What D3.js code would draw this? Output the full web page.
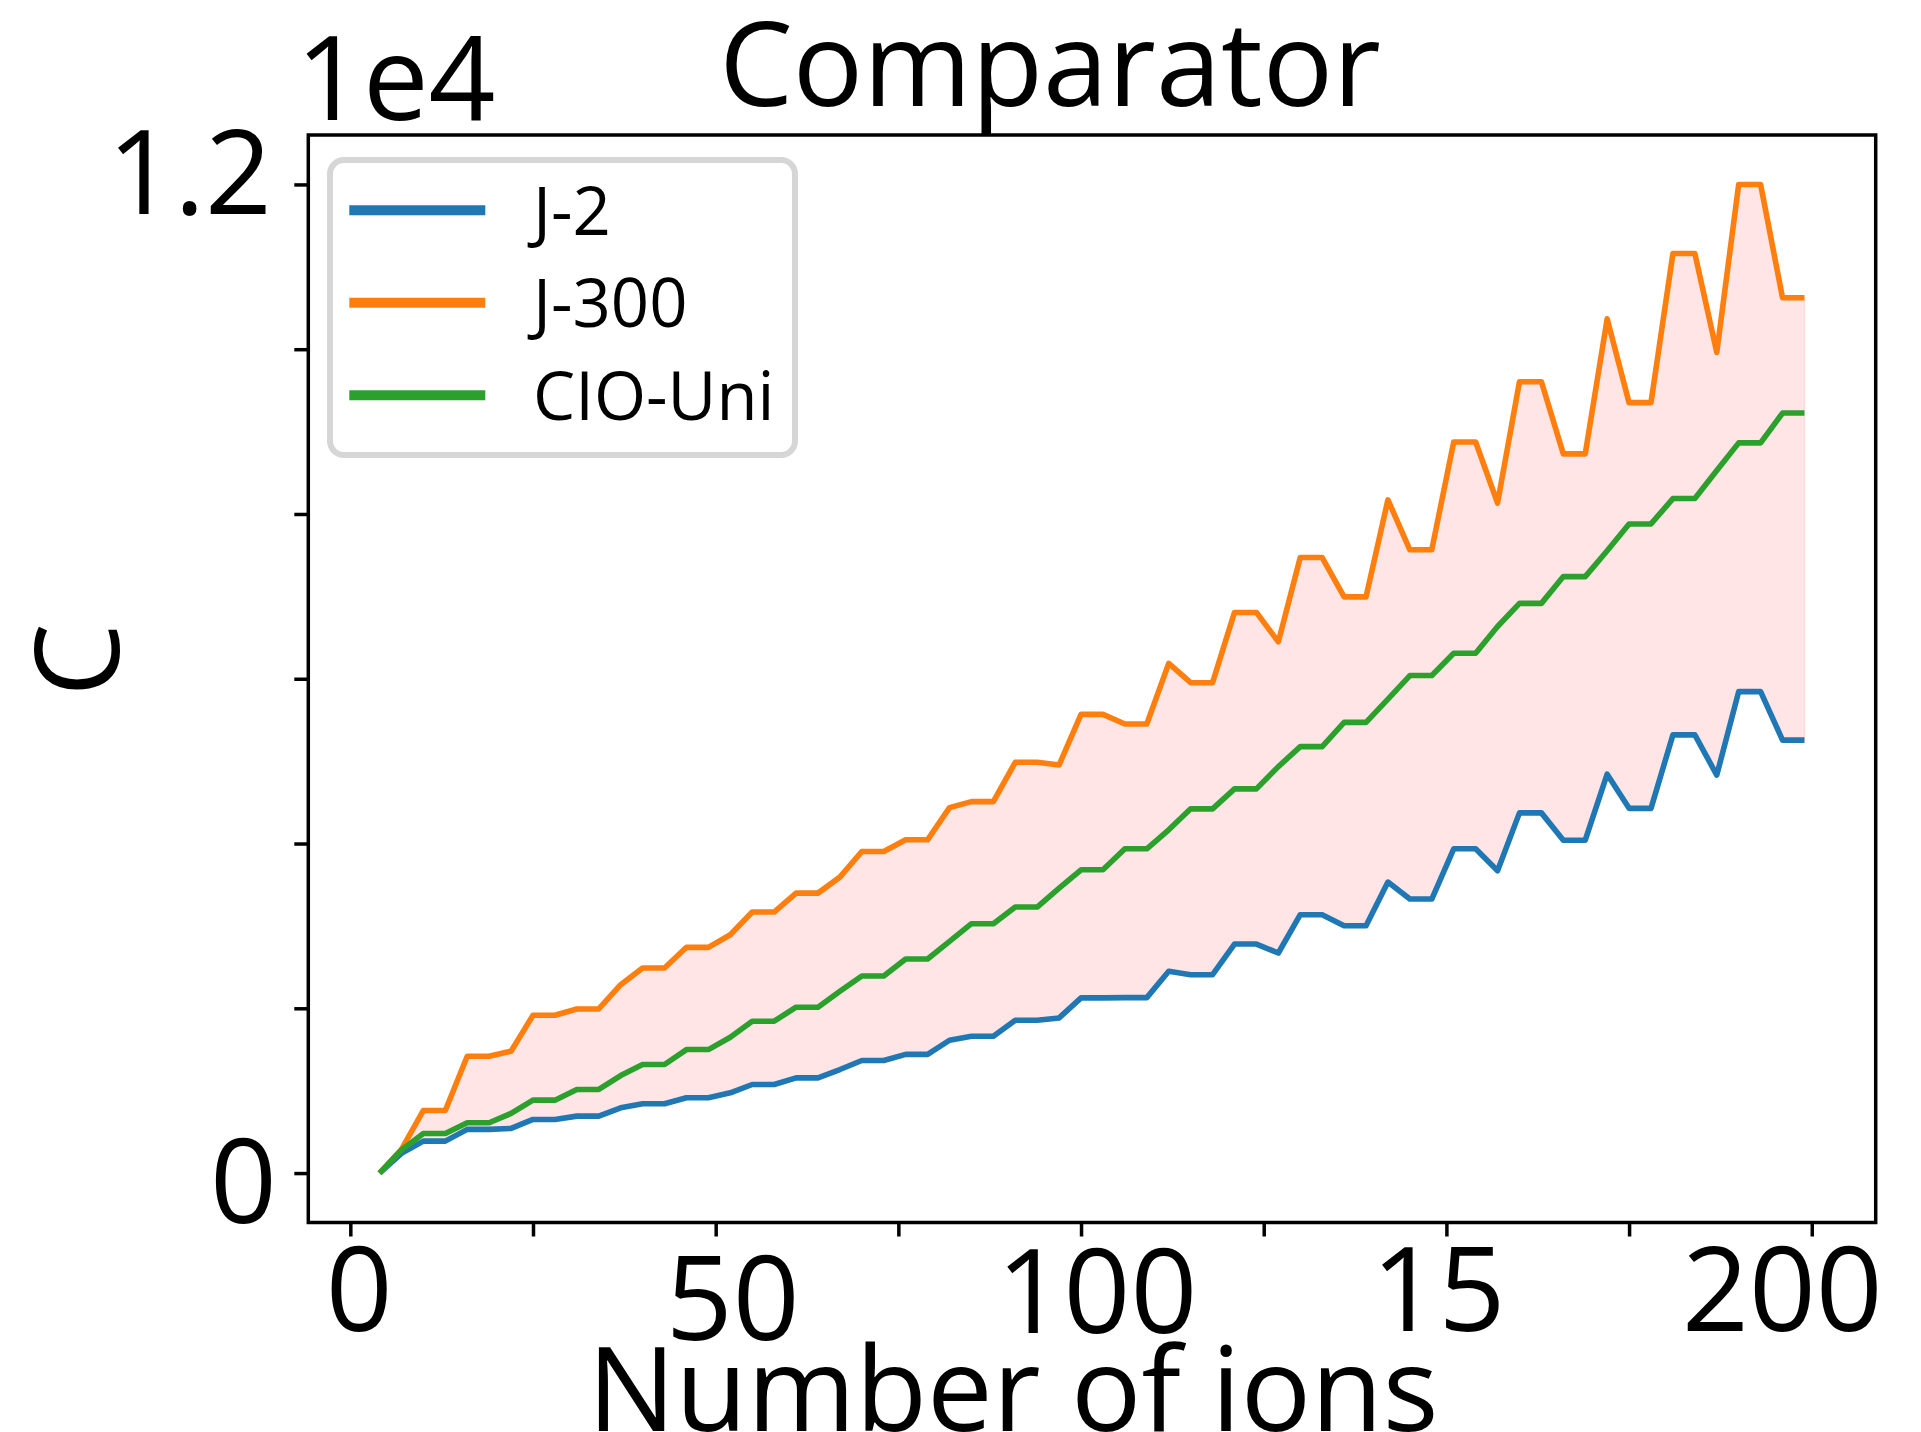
<!DOCTYPE html>
<html><head><meta charset="utf-8">
<script src="https://d3js.org/d3.v7.min.js"></script>
<style>
html,body{margin:0;padding:0;background:#fff;}
svg{display:block;}
text{font-family:"Open Sans",sans-serif;fill:#000;}
</style></head><body>
<svg id="chart" width="1921" height="1432"></svg>
<script>
// ---------- data ----------
const ions = [4,7,10,13,16,19,22,25,28,31,34,37,40,43,46,49,52,55,58,61,64,67,70,73,76,79,82,85,88,91,94,97,100,103,106,109,112,115,118,121,124,127,130,133,136,139,142,145,148,151,154,157,160,163,166,169,172,175,178,181,184,187,190,193,196,199];
const j2 = [0,239,388,388,530,530,542,651,651,691,691,792,841,841,914,914,974,1075,1075,1156,1156,1257,1366,1366,1441,1441,1612,1661,1661,1855,1855,1883,2126,2126,2130,2130,2449,2408,2408,2780,2780,2671,3136,3136,3002,3002,3532,3326,3326,3936,3936,3669,4372,4372,4040,4040,4841,4427,4427,5319,5319,4831,5844,5844,5255,5255];
const j300 = [0,287,760,760,1418,1418,1479,1915,1915,1992,1992,2287,2489,2489,2740,2740,2893,3168,3168,3398,3398,3592,3903,3903,4045,4045,4436,4509,4509,4986,4986,4954,5568,5568,5451,5451,6187,5952,5952,6805,6805,6448,7471,7471,6994,6994,8171,7565,7565,8874,8874,8133,9605,9605,8729,8729,10368,9351,9351,11162,11162,9961,12000,12000,10625,10625];
const cioUni = [0,280,481,481,611,611,724,885,885,1015,1015,1184,1318,1318,1499,1499,1649,1843,1843,2013,2013,2206,2392,2392,2599,2599,2812,3027,3027,3229,3229,3459,3681,3681,3936,3936,4166,4421,4421,4663,4663,4933,5176,5176,5471,5471,5752,6039,6039,6309,6309,6634,6915,6915,7240,7240,7554,7879,7879,8187,8187,8527,8863,8863,9225,9225];
const seriesNames = ["J-2", "J-300", "CIO-Uni"];
const seriesColors = ["#1f77b4", "#ff7f0e", "#2ca02c"];
const xTickValues = [0,25,50,75,100,125,150,175,200];
const xLabelValues = [0,50,100,150,200];
const xLabelTexts = ["0","50","100","15","200"];
const yTickValues = [0,2000,4000,6000,8000,10000,12000];
const yTickLabels = ["0","","","","","","1.2"];
const offsetText = "1e4";
const titleText = "Comparator";
const xAxisTitle = "Number of ions";
const yAxisTitle = "C";

// ---------- layout ----------
const svg = d3.select("#chart");
const L = 308.3, R = 1875.7, T = 135, B = 1222.5;
const x = d3.scaleLinear().domain([-5.75, 208.75]).range([L, R]);
const y = d3.scaleLinear().domain([-600, 12600]).range([B, T]);
const FS = 117;

const rows = ions.map((v, i) => ({x: v, a: j2[i], b: j300[i], c: cioUni[i]}));

// fill between J-2 and J-300
svg.append("path")
  .datum(rows)
  .attr("d", d3.area().x(d => x(d.x)).y0(d => y(d.a)).y1(d => y(d.b)))
  .attr("fill", "rgba(255,0,0,0.1)")
  .attr("stroke", "rgba(255,0,0,0.1)")
  .attr("stroke-width", 1.5);

const seriesVals = [j2, j300, cioUni];
seriesVals.forEach((vals, k) => {
  svg.append("path")
    .datum(ions.map((v, i) => [v, vals[i]]))
    .attr("d", d3.line().x(d => x(d[0])).y(d => y(d[1])))
    .attr("fill", "none")
    .attr("stroke", seriesColors[k])
    .attr("stroke-width", 5.6)
    .attr("stroke-linejoin", "round")
    .attr("stroke-linecap", "butt");
});

// axes ticks
const gx = svg.append("g").attr("transform", `translate(0,${B})`)
  .call(d3.axisBottom(x).tickValues(xTickValues).tickSizeInner(14).tickSizeOuter(0).tickFormat(""));
gx.select(".domain").remove();
gx.selectAll(".tick line").attr("stroke", "#000").attr("stroke-width", 3.5);

const gy = svg.append("g").attr("transform", `translate(${L},0)`)
  .call(d3.axisLeft(y).tickValues(yTickValues).tickSizeInner(14).tickSizeOuter(0).tickFormat(""));
gy.select(".domain").remove();
gy.selectAll(".tick line").attr("stroke", "#000").attr("stroke-width", 3.5);

// frame
svg.append("rect").attr("x", L).attr("y", T).attr("width", R - L).attr("height", B - T)
  .attr("fill", "none").attr("stroke", "#000").attr("stroke-width", 3.5);

// x tick labels (as placed in the reference)
const xLabelDx = [9, 17, 16, -8, -29.4];
const xLabelBase = [1331, 1340, 1333, 1331, 1331];
xLabelValues.forEach((v, i) => {
  svg.append("text").attr("x", x(v) + xLabelDx[i]).attr("y", xLabelBase[i])
    .attr("text-anchor", "middle").attr("font-size", FS).text(xLabelTexts[i]);
});

// y tick labels
const yLabelShift = [50, 0, 0, 0, 0, 0, 29.4];
const yLabelX = [277, 0, 0, 0, 0, 0, 272];
yTickValues.forEach((v, i) => {
  if (!yTickLabels[i]) return;
  svg.append("text").attr("x", yLabelX[i]).attr("y", y(v) + yLabelShift[i])
    .attr("text-anchor", "end").attr("font-size", FS).text(yTickLabels[i]);
});

// offset text, title, axis titles
svg.append("text").attr("x", 296).attr("y", 120).attr("font-size", FS).text(offsetText);
svg.append("text").attr("x", 1050).attr("y", 106).attr("text-anchor", "middle").attr("font-size", FS).text(titleText);
svg.append("text").attr("x", 1013).attr("y", 1431).attr("text-anchor", "middle").attr("font-size", FS).text(xAxisTitle);
svg.append("text").attr("transform", "translate(119,660) rotate(-90)").attr("text-anchor", "middle").attr("font-size", FS).text(yAxisTitle);

// legend
const lg = svg.append("g");
lg.append("rect").attr("x", 330).attr("y", 160).attr("width", 465).attr("height", 295).attr("rx", 14)
  .attr("fill", "#fff").attr("stroke", "#d6d6d6").attr("stroke-width", 6);
seriesNames.forEach((name, i) => {
  const cy = 210.3 + i * 92.5;
  lg.append("line").attr("x1", 349.3).attr("x2", 485.3).attr("y1", cy).attr("y2", cy)
    .attr("stroke", seriesColors[i]).attr("stroke-width", 10);
  lg.append("text").attr("x", 533).attr("y", cy + 24.5).attr("font-size", 67).text(name);
});
</script>
</body></html>
